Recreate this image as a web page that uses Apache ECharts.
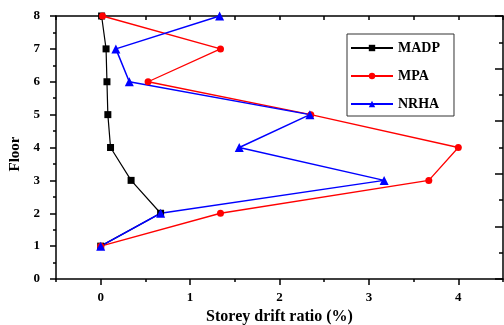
<!DOCTYPE html>
<html>
<head>
<meta charset="utf-8">
<script src="https://cdn.jsdelivr.net/npm/echarts@6/dist/echarts.min.js"></script>
<style>
  html, body { margin: 0; padding: 0; background: #fff; }
  #chart { width: 504px; height: 325px; }
</style>
</head>
<body>
<div id="chart"></div>
<script>
// Storey drift ratio (%) per floor for three analysis methods
const floors = [1, 2, 3, 4, 5, 6, 7, 8];
const madp = [0.00, 0.67, 0.34, 0.11, 0.08, 0.07, 0.06, 0.01];
const mpa  = [0.00, 1.34, 3.67, 4.00, 2.35, 0.53, 1.34, 0.02];
const nrha = [0.00, 0.67, 3.17, 1.55, 2.34, 0.32, 0.17, 1.33];

const xMajorTicks = [0, 1, 2, 3, 4];
const xMinorTicks = [-0.5, 0.5, 1.5, 2.5, 3.5, 4.5];

const FONT = '"Liberation Serif", "Times New Roman", serif';
const AXIS_LINE = { show: true, onZero: false, lineStyle: { color: '#000', width: 1.5 } };
const TICK_STYLE = { color: '#000', width: 1.5 };

const pairs = vals => vals.map((v, i) => [v, floors[i]]);

const chart = echarts.init(document.getElementById('chart'), null, { renderer: 'canvas' });

chart.setOption({
  animation: false,
  backgroundColor: '#fff',
  grid: { left: 56, right: 1, top: 16, bottom: 46, containLabel: false, outerBoundsMode: 'none' },
  legend: {
    orient: 'vertical',
    left: 347,
    top: 34,
    padding: [7, 14, 5, 3],
    itemWidth: 42,
    itemHeight: 8,
    itemGap: 14,
    borderColor: '#333',
    borderWidth: 1,
    backgroundColor: '#fff',
    textStyle: { fontFamily: FONT, fontWeight: 'bold', fontSize: 14, color: '#000' },
    data: ['MADP', 'MPA', 'NRHA']
  },
  xAxis: [
    {
      type: 'value', position: 'bottom', min: -0.5, max: 4.5,
      axisLine: AXIS_LINE,
      axisTick: { show: true, customValues: xMajorTicks, length: 6, lineStyle: TICK_STYLE },
      axisLabel: { show: true, customValues: xMajorTicks, margin: 12, fontFamily: FONT, fontWeight: 'bold', fontSize: 13, color: '#000' },
      splitLine: { show: false },
      name: 'Storey drift ratio (%)',
      nameLocation: 'middle',
      nameGap: 26,
      nameTextStyle: { fontFamily: FONT, fontWeight: 'bold', fontSize: 16, color: '#000' }
    },
    {
      type: 'value', position: 'bottom', min: -0.5, max: 4.5,
      axisLine: { show: false, onZero: false },
      axisTick: { show: true, customValues: xMinorTicks, length: 3, lineStyle: TICK_STYLE },
      axisLabel: { show: false },
      splitLine: { show: false }
    },
    {
      type: 'value', position: 'top', min: -0.5, max: 4.5, interval: 0.5,
      axisLine: AXIS_LINE,
      axisTick: { show: true, inside: true, length: 4, lineStyle: TICK_STYLE },
      axisLabel: { show: false },
      splitLine: { show: false }
    }
  ],
  yAxis: [
    {
      type: 'value', position: 'left', min: 0, max: 8, interval: 1,
      axisLine: AXIS_LINE,
      axisTick: { show: true, length: 6, lineStyle: TICK_STYLE },
      minorTick: { show: true, splitNumber: 2, length: 3, lineStyle: TICK_STYLE },
      axisLabel: { show: true, margin: 16, fontFamily: FONT, fontWeight: 'bold', fontSize: 13, color: '#000' },
      splitLine: { show: false },
      minorSplitLine: { show: false },
      name: 'Floor',
      nameLocation: 'middle',
      nameRotate: 90,
      nameGap: 27,
      nameTextStyle: { fontFamily: FONT, fontWeight: 'bold', fontSize: 15, color: '#000', padding: [0, 13, 0, 0] }
    },
    {
      type: 'value', position: 'right', min: 0, max: 10, interval: 2,
      axisLine: AXIS_LINE,
      axisTick: { show: true, inside: true, length: 8, lineStyle: TICK_STYLE },
      minorTick: { show: true, splitNumber: 2, length: 4, lineStyle: TICK_STYLE },
      axisLabel: { show: false },
      splitLine: { show: false },
      minorSplitLine: { show: false }
    }
  ],
  series: [
    {
      name: 'MADP', type: 'line', xAxisIndex: 0, yAxisIndex: 0,
      data: pairs(madp),
      symbol: 'rect', symbolSize: 7,
      lineStyle: { color: '#000', width: 1.2 },
      itemStyle: { color: '#000' },
      clip: false
    },
    {
      name: 'MPA', type: 'line', xAxisIndex: 0, yAxisIndex: 0,
      data: pairs(mpa),
      symbol: 'circle', symbolSize: 7,
      lineStyle: { color: '#ff0000', width: 1.3 },
      itemStyle: { color: '#ff0000' },
      clip: false
    },
    {
      name: 'NRHA', type: 'line', xAxisIndex: 0, yAxisIndex: 0,
      data: pairs(nrha),
      symbol: 'triangle', symbolSize: 9,
      lineStyle: { color: '#0000ff', width: 1.5 },
      itemStyle: { color: '#0000ff' },
      clip: false
    }
  ]
});
</script>
</body>
</html>
